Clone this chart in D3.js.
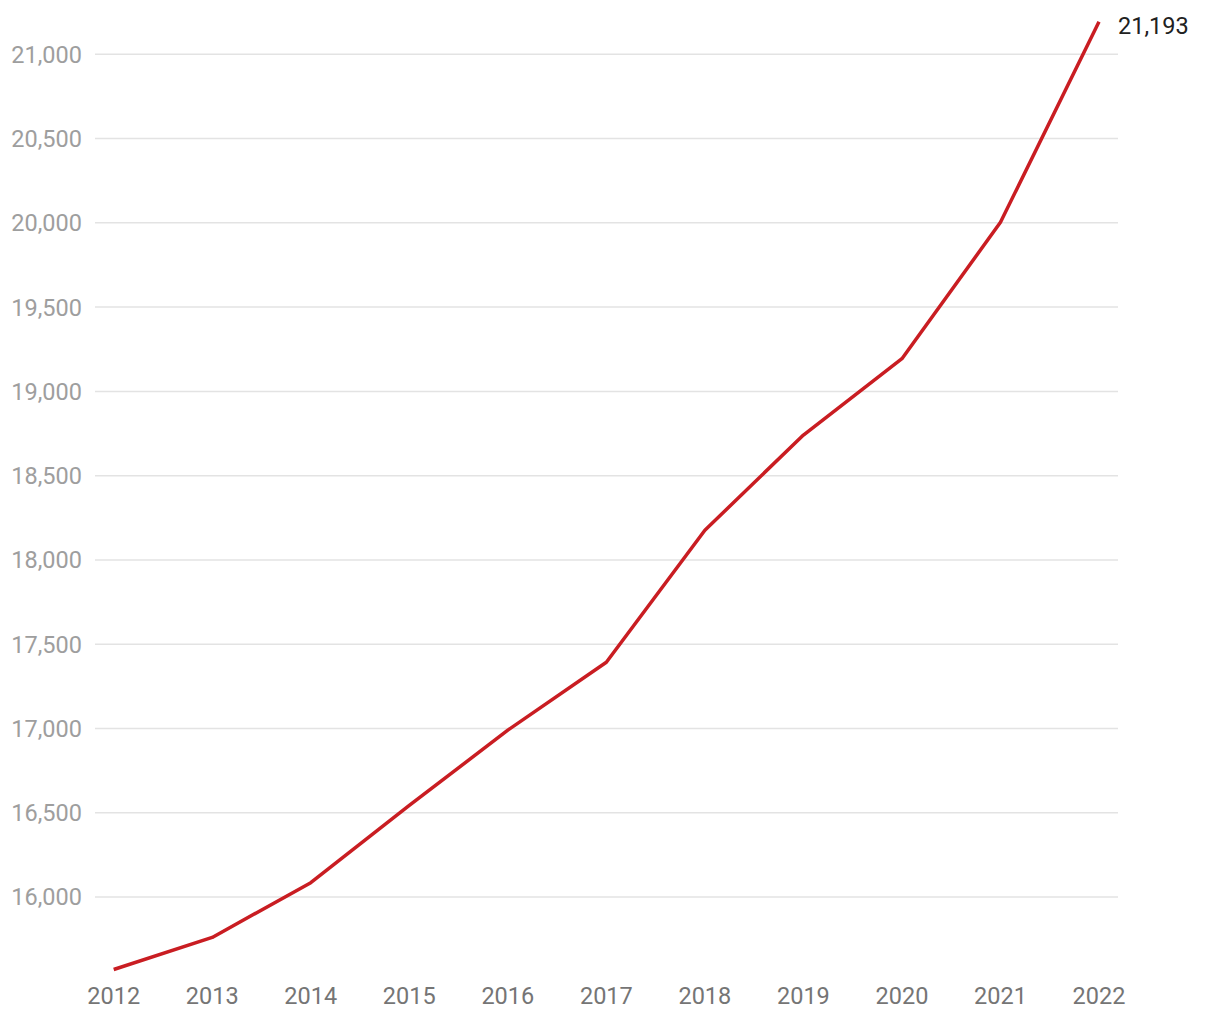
<!DOCTYPE html>
<html>
<head>
<meta charset="utf-8">
<script src="https://cdn.jsdelivr.net/npm/d3@7"></script>
<style>
  body { margin: 0; background: #fff; }
  svg { display: block; font-family: Roboto, "Noto Sans", sans-serif; }
</style>
</head>
<body>
<div id="chart"></div>
<script>
// data
var years = [2012, 2013, 2014, 2015, 2016, 2017, 2018, 2019, 2020, 2021, 2022];
var values = [15570, 15760, 16085, 16543, 16990, 17393, 18176, 18741, 19194, 20003, 21193];
var yTicks = [16000, 16500, 17000, 17500, 18000, 18500, 19000, 19500, 20000, 20500, 21000];

var svgWidth = 1220;
var svgHeight = 1020;
var gridLeft = 95;
var gridRight = 1118;
var fontSize = "23.5px";

var svg = d3.select("#chart")
    .append("svg")
    .attr("width", svgWidth)
    .attr("height", svgHeight);

var x = d3.scaleLinear()
    .domain([years[0], years[years.length - 1]])
    .range([113.7, 1099]);

var y = d3.scaleLinear()
    .domain([16000, 21000])
    .range([897, 54.3]);

var fmt = d3.format(",");

// gridlines
svg.append("g")
    .selectAll("line")
    .data(yTicks)
    .enter()
    .append("line")
    .attr("x1", gridLeft)
    .attr("x2", gridRight)
    .attr("y1", function (d) { return y(d); })
    .attr("y2", function (d) { return y(d); })
    .attr("stroke", "#e3e3e3")
    .attr("stroke-width", 1.5);

// y labels
svg.append("g")
    .selectAll("text")
    .data(yTicks)
    .enter()
    .append("text")
    .attr("x", 82)
    .attr("y", function (d) { return y(d); })
    .attr("dy", "0.36em")
    .attr("text-anchor", "end")
    .attr("font-size", fontSize)
    .attr("fill", "#9e9e9e")
    .text(function (d) { return fmt(d); });

// x labels
svg.append("g")
    .selectAll("text")
    .data(years)
    .enter()
    .append("text")
    .attr("x", function (d) { return x(d); })
    .attr("y", 1004)
    .attr("text-anchor", "middle")
    .attr("font-size", fontSize)
    .attr("fill", "#757575")
    .text(function (d) { return d; });

// line
var line = d3.line()
    .x(function (d, i) { return x(years[i]); })
    .y(function (d) { return y(d); });

svg.append("path")
    .datum(values)
    .attr("d", line)
    .attr("fill", "none")
    .attr("stroke", "#c91d22")
    .attr("stroke-width", 3.5)
    .attr("stroke-linejoin", "round");

// last value label
var last = values.length - 1;
svg.append("text")
    .attr("x", x(years[last]) + 19)
    .attr("y", y(values[last]) + 12)
    .attr("font-size", fontSize)
    .attr("fill", "#212121")
    .text(fmt(values[last]));
</script>
</body>
</html>
